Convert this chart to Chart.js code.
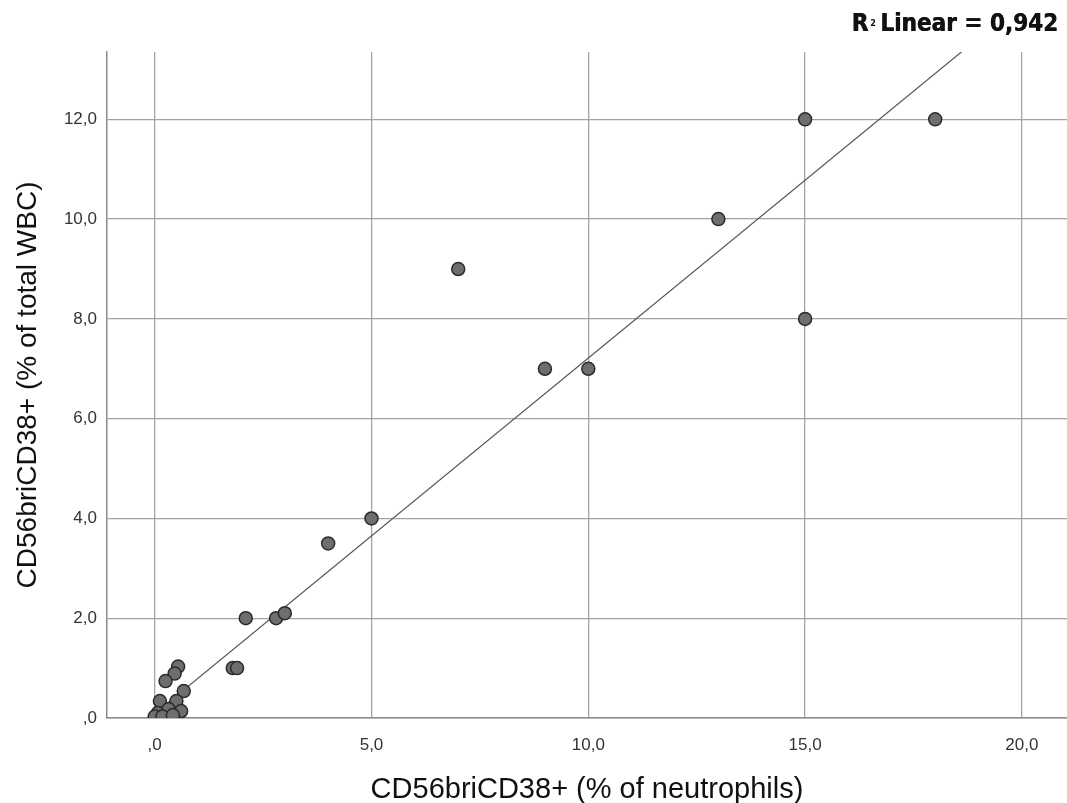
<!DOCTYPE html>
<html>
<head>
<meta charset="utf-8">
<script src="https://cdn.jsdelivr.net/npm/chart.js@4"></script>
<style>
  html, body { margin: 0; padding: 0; background: #fff; overflow: hidden; }
  #wrap { width: 1067px; height: 803px; position: relative; }
  canvas { display: block; }
</style>
</head>
<body>
<div id="wrap"><canvas id="chart"></canvas></div>
<script>
// === data ===
const neutrophils = [18, 15, 13, 7, 15, 9, 10, 5, 4, 2.1, 2.8, 3.0, 1.8, 1.9,
  0.54, 0.46, 0.25, 0.67, 0.12, 0.5, 0.32, 0.61, 0.07, 0.0, 0.18, 0.42];
const totalWbc = [12, 12, 10, 9, 8, 7, 7, 4, 3.5, 2, 2, 2.1, 1, 1,
  1.03, 0.89, 0.74, 0.54, 0.34, 0.34, 0.18, 0.14, 0.1, 0.03, 0.03, 0.06];

// fit line end points (R2 linear = 0,942)
const fitX = [-1.1, 21.1];
const fitY = [-0.70, 15.13];

const xTicks = [0, 5, 10, 15, 20];
const yTicks = [0, 2, 4, 6, 8, 10, 12];
const r2Label = "0,942";

const fmt = v => v === 0 ? ",0" : v.toFixed(1).replace(".", ",");
const FONT = "'Liberation Sans', Arial, sans-serif";

// R² text in the top right corner
const r2Plugin = {
  id: "r2",
  afterDraw(chart) {
    const ctx = chart.ctx;
    ctx.save();
    ctx.fillStyle = "#111";
    ctx.textBaseline = "alphabetic";
    ctx.font = "bold 24px 'DejaVu Sans Condensed', 'DejaVu Sans'";
    const rest = "Linear = " + r2Label;
    const wRest = ctx.measureText(rest).width;
    const right = 1058;
    const base = 31;
    ctx.textAlign = "left";
    ctx.fillText(rest, right - wRest, base);
    ctx.fillText(rest, right - wRest + 0.6, base);
    ctx.font = "bold 8px 'DejaVu Sans'";
    ctx.fillText("2", right - wRest - 10, base - 5);
    ctx.font = "bold 24px 'DejaVu Sans Condensed', 'DejaVu Sans'";
    const wR = ctx.measureText("R").width;
    ctx.fillText("R", right - wRest - 12 - wR, base);
    ctx.fillText("R", right - wRest - 11.4 - wR, base);
    ctx.restore();
  }
};

new Chart(document.getElementById("chart"), {
  type: "scatter",
  data: {
    datasets: [
      {
        label: "CD56briCD38+",
        data: neutrophils.map((x, i) => ({ x: x, y: totalWbc[i] })),
        backgroundColor: "#6e6e6e",
        borderColor: "#2b2b2b",
        borderWidth: 1.5,
        pointRadius: 6.5,
        order: 0
      },
      {
        type: "line",
        label: "Fit",
        data: fitX.map((x, i) => ({ x: x, y: fitY[i] })),
        borderColor: "#555",
        borderWidth: 1.2,
        pointRadius: 0,
        fill: false,
        order: 1
      }
    ]
  },
  options: {
    responsive: true,
    maintainAspectRatio: false,
    animation: false,
    layout: { autoPadding: false, padding: { top: 52, right: 0, bottom: 0, left: 0 } },
    plugins: {
      legend: { display: false },
      tooltip: { enabled: false }
    },
    scales: {
      x: {
        type: "linear",
        min: -1.1,
        max: 21.04,
        afterBuildTicks: s => { s.ticks = xTicks.map(v => ({ value: v })); },
        afterFit: s => { s.height = 85; },
        grid: { color: "#a3a3a3", lineWidth: 1.3, drawTicks: false },
        border: { display: true, color: "#8a8a8a", width: 1.5 },
        ticks: {
          padding: 17,
          color: "#333",
          font: { family: FONT, size: 17 },
          callback: v => fmt(v)
        },
        title: {
          display: true,
          text: "CD56briCD38+ (% of neutrophils)",
          color: "#111",
          font: { family: FONT, size: 29 },
          padding: { top: 0, bottom: -4 }
        }
      },
      y: {
        type: "linear",
        min: 0,
        max: 13.35,
        afterBuildTicks: s => { s.ticks = yTicks.map(v => ({ value: v })); },
        afterFit: s => { s.width = 107; },
        grid: { color: "#a3a3a3", lineWidth: 1.3, drawTicks: false },
        border: { display: true, color: "#8a8a8a", width: 1.5 },
        ticks: {
          padding: 10,
          color: "#333",
          font: { family: FONT, size: 17 },
          callback: v => fmt(v)
        },
        title: {
          display: true,
          text: "CD56briCD38+ (% of total WBC)",
          color: "#111",
          font: { family: FONT, size: 28 },
          padding: { top: 11, bottom: 0 }
        }
      }
    }
  },
  plugins: [r2Plugin]
});
</script>
</body>
</html>
